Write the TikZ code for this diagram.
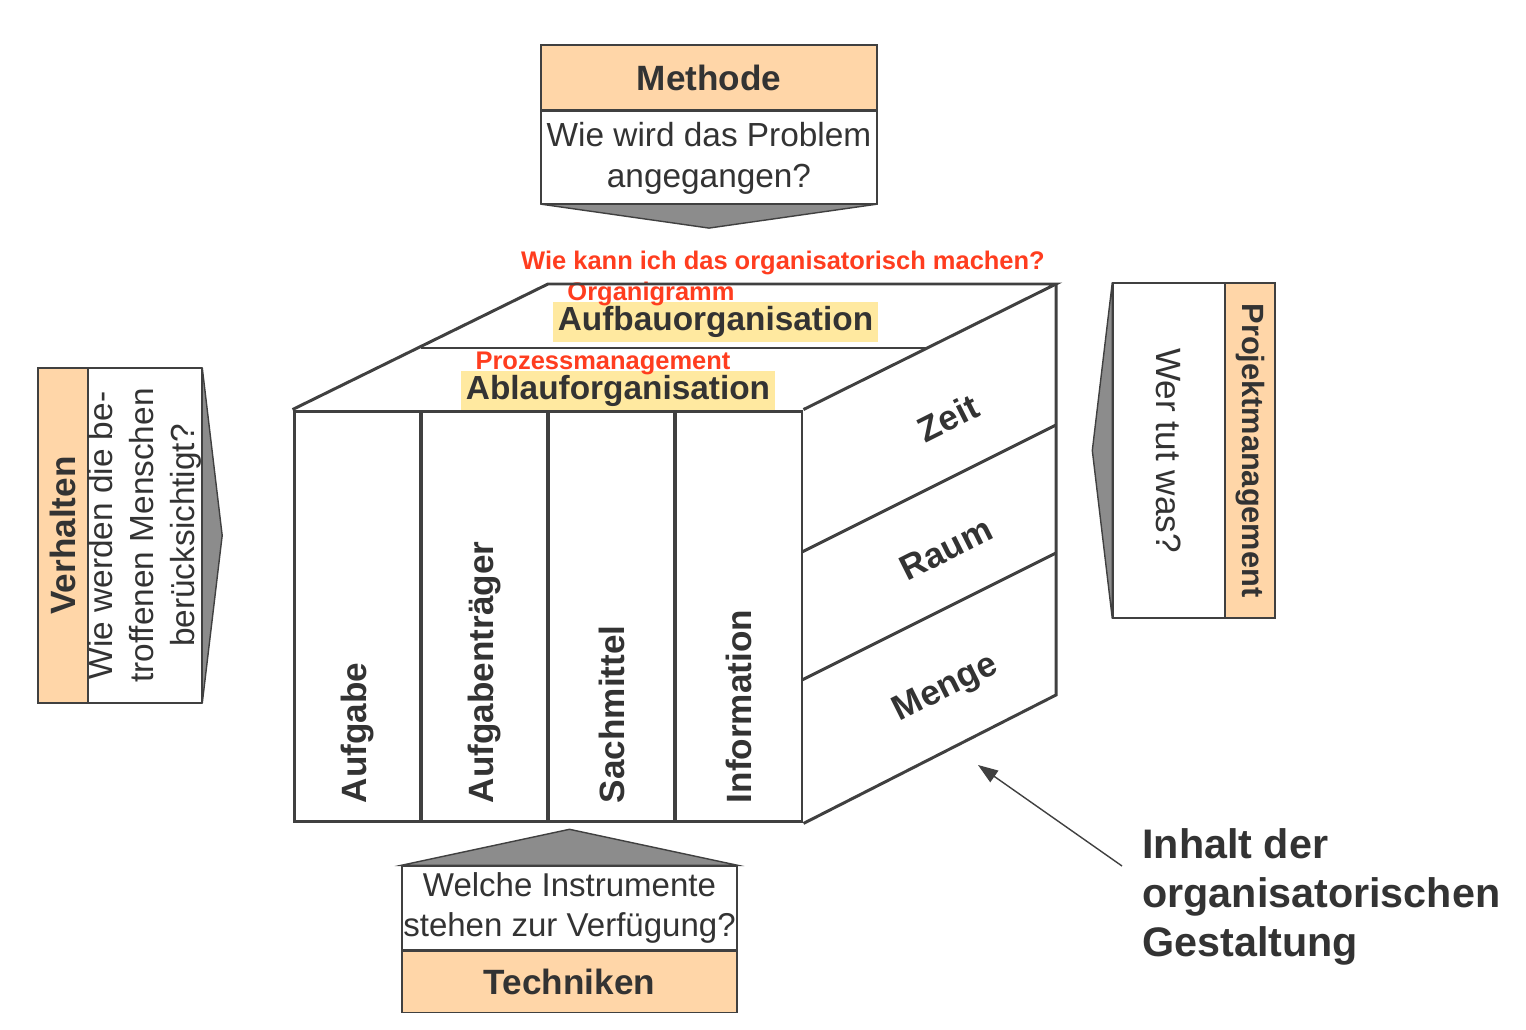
\documentclass[tikz,border=0pt]{standalone}
\usepackage{fontspec}
\setmainfont{Liberation Sans}
\usetikzlibrary{arrows.meta,positioning,calc}
\definecolor{Peach}{HTML}{FFD6A8}
\definecolor{Hilite}{HTML}{FFE9A0}
\definecolor{PointGray}{HTML}{8C8C8C}
\definecolor{LineGray}{HTML}{404040}
\definecolor{TextGray}{HTML}{333333}
\definecolor{HintRed}{HTML}{FF3D1F}

\begin{document}
\begin{tikzpicture}[
    x=0.02cm, y=-0.02cm, text=TextGray,
    headbox/.style={draw=LineGray, line width=0.8pt, fill=Peach, inner sep=0pt, align=center, font=\fontsize{20}{24}\selectfont\bfseries},
    askbox/.style={draw=LineGray, line width=0.8pt, fill=white, inner sep=0pt, align=center, font=\fontsize{19}{23.3}\selectfont},
    pointer/.style={draw=LineGray, line width=0.8pt, fill=PointGray},
    cubeline/.style={draw=LineGray, line width=1.7pt},
    column/.style={cubeline, minimum width=2.54cm, minimum height=8.22cm, inner sep=0pt},
    collab/.style={rotate=90, anchor=west, inner sep=0pt, font=\fontsize{20}{24}\selectfont\bfseries},
    facelab/.style={rotate=26.57, inner sep=0pt, font=\fontsize{20}{24}\selectfont\bfseries},
    orglab/.style={fill=Hilite, inner xsep=0.1cm, inner ysep=0pt, minimum height=0.8cm, font=\fontsize{19}{23}\selectfont\bfseries},
    hint/.style={text=HintRed, inner sep=0pt, font=\fontsize{14.5}{17}\selectfont\bfseries},
    arr/.style={-{Triangle[length=0.4cm, width=0.28cm]}, draw=LineGray, line width=0.8pt}
]
\useasboundingbox (0,0) rectangle (1526,1030);

% Methode oben
\node[headbox, minimum width=6.72cm, minimum height=1.3cm] (meth) at (709,77.5) {Methode};
\node[askbox, minimum width=6.72cm, minimum height=1.84cm, text depth=0.1cm, below=0pt of meth] (methq) {Wie wird das Problem\\angegangen?};
\filldraw[pointer] (methq.south west) -- (methq.south east) -- ($(methq.south)+(0,24)$) -- cycle;

% Techniken unten
\node[askbox, minimum width=6.7cm, minimum height=1.68cm, font=\fontsize{18.8}{23}\selectfont] (techq) at (569.5,908) {Welche Instrumente\\stehen zur Verfügung?};
\node[headbox, minimum width=6.7cm, minimum height=1.22cm, below=0pt of techq] (tech) {Techniken};
\filldraw[pointer] (techq.north west) -- (techq.north east) -- ($(techq.north)+(0,-36)$) -- cycle;

% Verhalten links
\node[headbox, rotate=90, minimum width=6.7cm, minimum height=1.0cm] (verh) at (63,535.5) {Verhalten};
\node[askbox, rotate=90, minimum width=6.7cm, minimum height=2.24cm] (verhq) at (145,535.5) {Wie werden die be-\\troffenen Menschen\\berücksichtigt?};
\filldraw[pointer] (verhq.south west) -- (verhq.south east) -- ($(verhq.south)+(20,0)$) -- cycle;

% Projektmanagement rechts
\node[askbox, rotate=-90, minimum width=6.7cm, minimum height=2.24cm, font=\fontsize{20}{24}\selectfont] (projq) at (1169,450.5) {Wer tut was?};
\node[headbox, rotate=-90, minimum width=6.7cm, minimum height=1.0cm, font=\fontsize{17.5}{21}\selectfont\bfseries] (proj) at (1250,450.5) {Projektmanagement};
\filldraw[pointer] (projq.south west) -- (projq.south east) -- ($(projq.south)+(-20,0)$) -- cycle;

% Beschriftung Oberseite
\node[orglab] (aufbau) at (715.5,322) {Aufbauorganisation};
\node[orglab] (ablauf) at (618,391) {Ablauforganisation};
\node[hint] (organi) at (651,294) {Organigramm};
\node[hint] (prozess) at (603,363) {Prozessmanagement};
\node[hint] (frage) at (783,263) {Wie kann ich das organisatorisch machen?};

% Wuerfel
\node[column] (aufg) at (357.5,616.5) {};
\node[column] (traeger) at (484.5,616.5) {};
\node[column] (sach) at (611.5,616.5) {};
\node[column] (info) at (738.5,616.5) {};
\draw[cubeline] (aufg.north west) -- (548,284) -- (1056,284) -- (info.north east);
\draw[cubeline] (421,348) -- (929,348);
\draw[cubeline] (1056,284) -- (1056,695) -- (info.south east);
\draw[cubeline] (802,552) -- (1056,425);
\draw[cubeline] (802,680) -- (1056,553);

\node[collab] (aufglab) at ([yshift=0.4cm]aufg.south) {Aufgabe};
\node[collab] (traegerlab) at ([yshift=0.4cm]traeger.south) {Aufgabenträger};
\node[collab] (sachlab) at ([yshift=0.4cm]sach.south) {Sachmittel};
\node[collab] (infolab) at ([yshift=0.4cm]info.south) {Information};

\node[facelab] (zeit) at (948,418) {Zeit};
\node[facelab] (raum) at (946,549) {Raum};
\node[facelab] (menge) at (946,689) {Menge};

% Hinweis
\node[anchor=north west, inner sep=0pt, align=left, font=\fontsize{23.5}{28}\selectfont\bfseries] (inhalt) at (1142,828) {Inhalt der\\organisatorischen\\Gestaltung};
\coordinate (ziel) at (978,765);
\draw[arr] ($(inhalt.north west)+(-20,38)$) -- (ziel);
\end{tikzpicture}
\end{document}
